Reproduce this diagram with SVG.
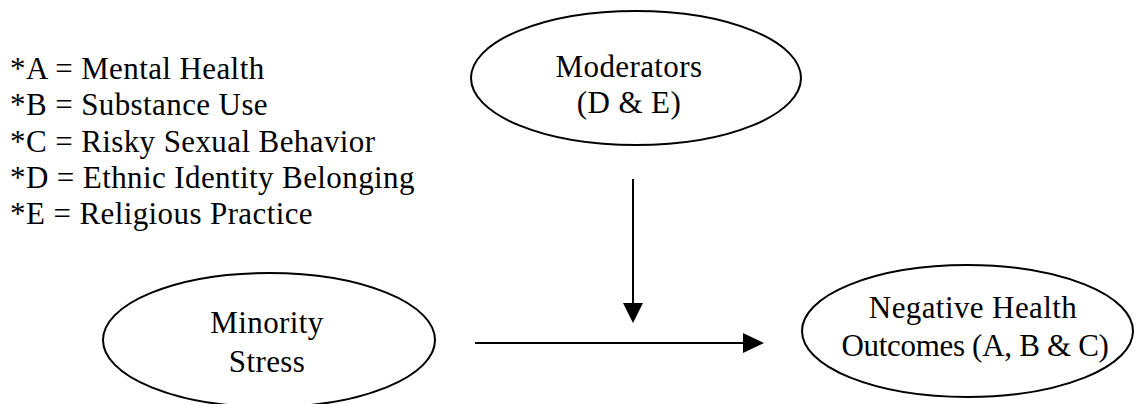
<svg xmlns="http://www.w3.org/2000/svg" width="1136" height="404" viewBox="0 0 1136 404">
  <rect width="1136" height="404" fill="#fff"/>

  <g id="legend">
    <text x="10" y="79" font-family="Liberation Serif" font-size="31" letter-spacing="0.4">*A = Mental Health</text>
    <text x="10" y="115" font-family="Liberation Serif" font-size="31" letter-spacing="0.4">*B = Substance Use</text>
    <text x="10" y="152" font-family="Liberation Serif" font-size="31" letter-spacing="0.4">*C = Risky Sexual Behavior</text>
    <text x="10" y="188" font-family="Liberation Serif" font-size="31" letter-spacing="0.4">*D = Ethnic Identity Belonging</text>
    <text x="10" y="224" font-family="Liberation Serif" font-size="31" letter-spacing="0.4">*E = Religious Practice</text>
  </g>

  <g id="moderators">
    <ellipse cx="636" cy="78" rx="165" ry="67" fill="#fff" stroke="#000" stroke-width="2"/>
    <text x="629" y="77" font-family="Liberation Serif" font-size="31" letter-spacing="0.4" text-anchor="middle">Moderators</text>
    <text x="629" y="113" font-family="Liberation Serif" font-size="31" letter-spacing="0.4" text-anchor="middle">(D &amp; E)</text>
  </g>

  <g id="minority-stress">
    <ellipse cx="269" cy="340" rx="166" ry="67" fill="#fff" stroke="#000" stroke-width="2"/>
    <text x="267" y="333" font-family="Liberation Serif" font-size="31" letter-spacing="0.4" text-anchor="middle">Minority</text>
    <text x="267" y="372" font-family="Liberation Serif" font-size="31" letter-spacing="0.4" text-anchor="middle">Stress</text>
  </g>

  <g id="outcomes">
    <ellipse cx="967.5" cy="331" rx="165.5" ry="66" fill="#fff" stroke="#000" stroke-width="2"/>
    <text x="973" y="318" font-family="Liberation Serif" font-size="31" letter-spacing="0.4" text-anchor="middle">Negative Health</text>
    <text x="975" y="356" font-family="Liberation Serif" font-size="31" text-anchor="middle" letter-spacing="-0.3">Outcomes (A, B &amp; C)</text>
  </g>

  <g id="connectors">
    <line x1="633" y1="179" x2="633" y2="304" stroke="#000" stroke-width="2"/>
    <path d="M633,323 L623,303 L643,303 Z" fill="#000"/>
    <line x1="475" y1="343" x2="744" y2="343" stroke="#000" stroke-width="2"/>
    <path d="M764,343 L743,333 L743,353 Z" fill="#000"/>
  </g>
</svg>
